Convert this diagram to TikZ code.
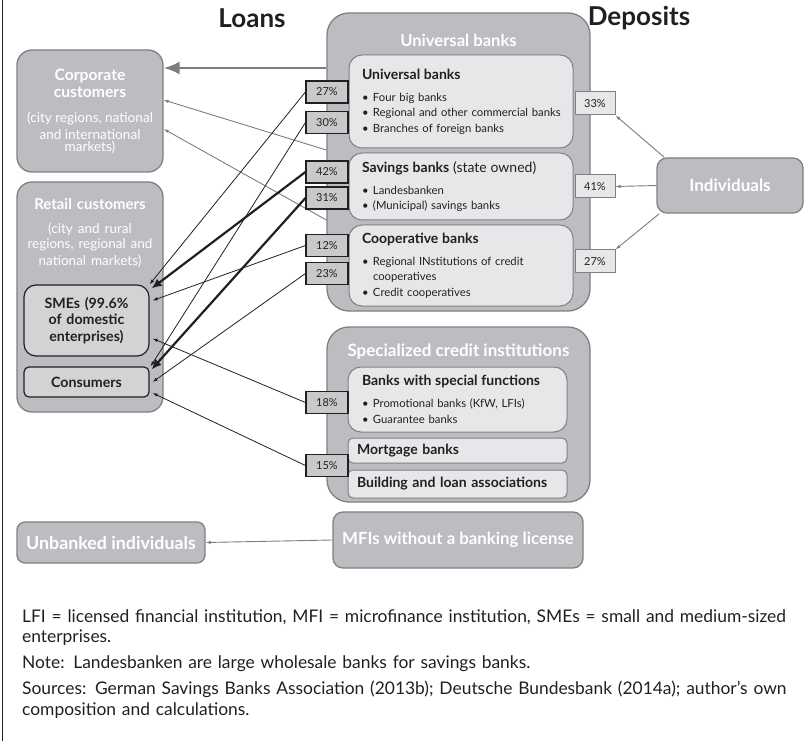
\documentclass[tikz,border=0pt]{standalone}
\usepackage{fontspec}
\setmainfont{Lato}
\usetikzlibrary{positioning,calc,arrows.meta}

\definecolor{boxgray}{RGB}{188,189,192}
\definecolor{boxedge}{RGB}{128,128,131}
\definecolor{innerfill}{RGB}{231,231,233}
\definecolor{smefill}{RGB}{211,211,213}
\definecolor{pctfill}{RGB}{201,201,203}
\definecolor{darktext}{RGB}{35,31,32}
\definecolor{arrowgray}{RGB}{125,125,128}

\newcommand{\bankitem}[1]{\par\hangindent=11pt\hangafter=1\noindent\hbox to 11pt{\textbullet\hfil}#1}
\newcommand{\banktitle}[1]{{\fontsize{14}{16}\selectfont\bfseries #1}\par\vspace{6.5pt}}

\tikzstyle{outerbox} = [draw=boxedge, fill=boxgray, line width=1.3pt, rounded corners=18pt, text=white, font=\bfseries, align=center, inner sep=0pt]
\tikzstyle{innerbox} = [draw=boxedge, fill=innerfill, line width=1pt, rounded corners=13pt, text=darktext, align=left, inner ysep=0pt, font=\fontsize{11.3}{15.5}\selectfont]
\tikzstyle{flatbox} = [draw=boxedge, fill=innerfill, line width=1pt, rounded corners=5pt, text=darktext, align=left, inner ysep=0pt, inner xsep=9pt, font=\fontsize{14}{16}\selectfont\bfseries]
\tikzstyle{custbox} = [draw=darktext, fill=smefill, line width=1.2pt, text=darktext, align=center, inner sep=0pt, font=\fontsize{14.2}{16.5}\selectfont\bfseries]
\tikzstyle{whitetitle} = [text=white, inner sep=0pt, font=\fontsize{16.6}{19}\selectfont\bfseries]
\tikzstyle{titletext} = [text=darktext, inner sep=0pt, font=\fontsize{26}{28}\selectfont\bfseries]
\tikzstyle{pctleft} = [draw=darktext, fill=pctfill, line width=1.1pt, minimum width=42pt, minimum height=22pt, inner sep=0pt, text=darktext, font=\fontsize{11}{12}\selectfont]
\tikzstyle{pctright} = [draw=boxedge, fill=innerfill, line width=1pt, minimum width=40pt, minimum height=23pt, inner sep=0pt, text=darktext, font=\fontsize{11}{12}\selectfont]
\tikzstyle{loanarrow} = [draw=darktext, line width=0.8pt, -{Latex[length=5pt,width=3.5pt]}]
\tikzstyle{bigloan} = [draw=darktext, line width=2.2pt, -{Latex[length=10pt,width=9pt]}]
\tikzstyle{grayarrow} = [draw=arrowgray, line width=0.9pt, -{Latex[length=5pt,width=3.5pt]}]
\tikzstyle{thickgray} = [draw=arrowgray, line width=2.6pt, -{Latex[length=16pt,width=13pt]}]

\begin{document}
\begin{tikzpicture}[x=1pt,y=-1pt]
\useasboundingbox (0,0) rectangle (807,741);
\draw[darktext, line width=1pt] (2,0) -- (2,741);

% headings
\node[titletext] (loans) at (252,18) {Loans};
\node[titletext] (deposits) at (639,18) {Deposits};

% borrowers
\node[outerbox, text width=146pt, minimum height=122pt, rounded corners=15pt] (corp) at (90,111)
  {\fontsize{15.7}{17}\selectfont Corporate\\customers\par\vspace{9pt}
   \fontsize{13.6}{16.5}\selectfont\mdseries (city regions, national\\and international\\markets)};
\node[outerbox, minimum width=146pt, minimum height=230pt, rounded corners=15pt] (retail) at (90,297) {};
\node[whitetitle, anchor=north, align=center, text width=150pt, font=\fontsize{14.9}{17}\selectfont\bfseries] (retaillabel) at ([yshift=-17pt]retail.north)
  {Retail customers\par\vspace{8pt}
   \fontsize{13.5}{15.5}\selectfont\mdseries (city and rural\\regions, regional and\\national markets)};
\node[custbox, text width=125pt, minimum height=71pt, rounded corners=12pt] (sme) at (86.5,320.5)
  {SMEs (99.6\%\\of domestic\\enterprises)};
\node[custbox, text width=125pt, minimum height=30pt, rounded corners=5pt] (cons) at (86.5,382) {Consumers};
\node[outerbox, minimum width=188pt, minimum height=41pt, rounded corners=8pt, font=\fontsize{17.8}{19}\selectfont\bfseries] (unbanked) at (111,542.5) {Unbanked individuals};

% universal banks
\node[outerbox, minimum width=263pt, minimum height=298pt, rounded corners=22pt] (univ) at (458.5,162) {};
\node[whitetitle] (univlabel) at (458.5,40) {Universal banks};
\node[innerbox, text width=198pt, inner xsep=13pt, minimum height=93pt] (ubank) at (461,101.5)
  {\banktitle{Universal banks}
   \bankitem{Four big banks}
   \bankitem{\mbox{Regional and other commercial banks}}
   \bankitem{Branches of foreign banks}};
\node[innerbox, text width=198pt, inner xsep=13pt, minimum height=67pt] (savings) at (461,186.5)
  {\banktitle{Savings banks \mdseries(state owned)}
   \bankitem{Landesbanken}
   \bankitem{(Municipal) savings banks}};
\node[innerbox, text width=198pt, inner xsep=13pt, minimum height=81pt] (coop) at (461,265.5)
  {\banktitle{Cooperative banks}
   \bankitem{Regional INstitutions of credit\newline cooperatives}
   \bankitem{Credit cooperatives}};

% specialized credit institutions
\node[outerbox, minimum width=263pt, minimum height=175pt, rounded corners=22pt] (spec) at (458.5,414.5) {};
\node[whitetitle, font=\fontsize{17}{19}\selectfont\bfseries] (speclabel) at (458.5,352) {Specialized credit institutions};
\node[innerbox, text width=191pt, inner xsep=14pt, minimum height=65pt] (special) at (457.5,399.5)
  {\banktitle{Banks with special functions}
   \bankitem{Promotional banks (KfW, LFIs)}
   \bankitem{Guarantee banks}};
\node[flatbox, text width=201pt, minimum height=25pt] (mortgage) at (457.5,450.5) {Mortgage banks};
\node[flatbox, text width=201pt, minimum height=28pt] (building) at (457.5,484) {Building and loan associations};

\node[outerbox, minimum width=250pt, minimum height=56pt, rounded corners=10pt, font=\fontsize{16.8}{19}\selectfont\bfseries] (mfi) at (458,540) {MFIs without a banking license};

% depositors
\node[outerbox, minimum width=146pt, minimum height=55pt, rounded corners=10pt, font=\fontsize{17}{19}\selectfont\bfseries] (indiv) at (730,185.5) {Individuals};

% flows to corporate customers
\draw[thickgray] ([yshift=94pt]univ.west) -- ([yshift=43pt]corp.east);
\draw[grayarrow] ([yshift=12pt]univ.west) -- ([yshift=11pt]corp.east);
\draw[grayarrow] ([yshift=-58pt]univ.west) -- ([yshift=-18pt]corp.east);

% loan shares
\node[pctleft] (p27) at (327,92) {27\%};
\node[pctleft] (p30) at (327,122.5) {30\%};
\node[pctleft] (p42) at (327,172) {42\%};
\node[pctleft] (p31) at (327,198) {31\%};
\node[pctleft] (p12) at (327,245.5) {12\%};
\node[pctleft] (p23) at (327,273.5) {23\%};
\node[pctleft] (p18) at (327,402.5) {18\%};
\node[pctleft] (p15) at (327,465.5) {15\%};

\draw[loanarrow] (p27.west) -- (sme.north east);
\draw[loanarrow] (p30.west) -- ([xshift=1pt]cons.north east);
\draw[bigloan] (p42.west) -- ([xshift=2pt,yshift=-4pt]sme.north east);
\draw[bigloan] (p31.west) -- ([xshift=2pt,yshift=-3pt]cons.north east);
\draw[loanarrow] (p12.west) -- ([xshift=3pt,yshift=20pt]sme.east);
\draw[loanarrow] (p23.west) -- ([xshift=3pt]cons.east);
\draw[loanarrow] (p18.west) -- ([xshift=3pt,yshift=-18pt]sme.east);
\draw[loanarrow] (p15.west) -- ([xshift=3pt,yshift=-11pt]cons.east);

% deposit shares
\node[pctright] (d33) at (595,103.5) {33\%};
\node[pctright] (d41) at (595,186.5) {41\%};
\node[pctright] (d27) at (595,261.5) {27\%};

\draw[grayarrow] ([xshift=8pt]indiv.north west) -- (d33.south east);
\draw[grayarrow] (indiv.west) -- (d41.east);
\draw[grayarrow] ([xshift=3pt]indiv.south west) -- (d27.north east);

\draw[grayarrow] (mfi.west) -- (unbanked.east);

% notes
\node[anchor=base west, text width=800pt, align=left, inner sep=0pt, text=darktext,
      font=\fontsize{17.4}{20.5}\selectfont] (notes) at (22,622)
  {LFI = licensed financial institution, MFI = microfinance institution, SMEs = small and medium-sized\\
   enterprises.\par\vspace{5.5pt}
   Note: Landesbanken are large wholesale banks for savings banks.\par\vspace{5.5pt}
   Sources: German Savings Banks Association (2013b); Deutsche Bundesbank (2014a); author’s own\\
   composition and calculations.};
\end{tikzpicture}
\end{document}
